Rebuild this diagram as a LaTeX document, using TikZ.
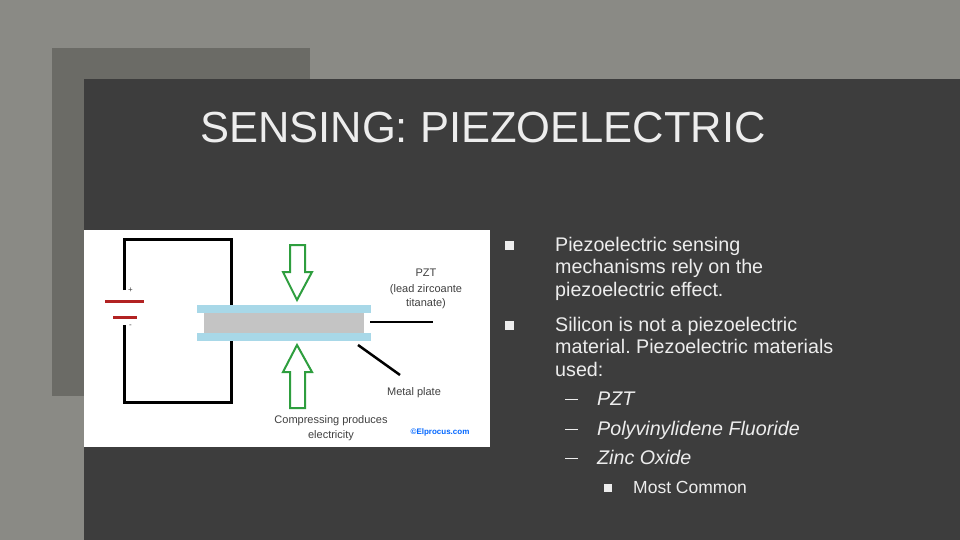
\documentclass[tikz,border=0pt]{standalone}
\usepackage{fontspec}
\setmainfont{Liberation Sans}
\usetikzlibrary{positioning}
\frenchspacing
\definecolor{bgout}{HTML}{8A8A85}
\definecolor{bgmid}{HTML}{6B6B66}
\definecolor{panel}{HTML}{3D3D3D}
\definecolor{txt}{HTML}{EDEDED}
\definecolor{plate}{HTML}{A8D8E8}
\definecolor{pzt}{HTML}{C4C4C4}
\definecolor{batt}{HTML}{B22222}
\definecolor{arr}{HTML}{2E9E3E}
\begin{document}
\begin{tikzpicture}[x=1pt, y=-1pt,
					every node/.style={inner sep=0pt, anchor=base west},
					body/.style={text=txt, font=\fontsize{19.7}{22}\selectfont},
					fig/.style={text=black!75, font=\fontsize{11}{12}\selectfont},
					wire/.style={line width=3pt, black}]

	\fill[bgout] (0,0) rectangle (960,540);
	\fill[bgmid] (52,48) rectangle (310,396);
	\fill[panel] (84,79) rectangle (960,540);
	\node[text=txt, font=\fontsize{43.5}{50}\selectfont] (title) at (200,143) {SENSING: PIEZOELECTRIC};

	% picture
	\fill[white] (84,230) rectangle (490,447);
	\draw[wire] (124,290) -- (124,239) -- (231,239) -- (231,305);
	\draw[wire] (231,341) -- (231,402) -- (124,402) -- (124,325);
	\draw[batt, line width=3pt] (105,301) -- (144,301);
	\draw[batt, line width=3pt] (113,317) -- (137,317);
	\node[fig, font=\fontsize{8}{9}\selectfont] (plus) at (128,292) {+};
	\node[fig, font=\fontsize{8}{9}\selectfont] (minus) at (129,327) {-};
	\fill[plate] (197,305) rectangle (371,313);
	\fill[pzt] (204,313) rectangle (364,333);
	\fill[plate] (197,333) rectangle (371,341);
	\draw[arr, line width=2pt] (290,245) -- (305,245) -- (305,272) -- (312,272)
		-- (297,300) -- (283,272) -- (290,272) -- cycle;
	\draw[arr, line width=2pt] (290,408) -- (305,408) -- (305,372) -- (312,372)
		-- (297,345) -- (283,372) -- (290,372) -- cycle;
	\coordinate (pztend) at (433,322);
	\coordinate (plateend) at (400,375);
	\draw[line width=2.5pt] (370,322) -- (pztend);
	\draw[line width=2.5pt] (358,345) -- (plateend);
	\node[fig, anchor=base] (pztlab) at (426,276) {PZT};
	\node[fig, anchor=base] (pztlab2) at (426,292) {(lead zircoante};
	\node[fig, anchor=base] (pztlab3) at (426,306) {titanate)};
	\node[fig, anchor=base] (metal) at (414,395) {Metal plate};
	\node[fig, anchor=base] (comp) at (331,423) {Compressing produces};
	\node[fig, anchor=base] (comp2) at (331,438) {electricity};
	\node[text=blue!60!cyan, font=\bfseries\fontsize{8}{9}\selectfont, anchor=base] (copy) at (440,434) {©Elprocus.com};

	% bullets
	\foreach \y in {245,325}
		\fill[txt] (505,\y-4) rectangle (514,\y+5);
	\node[body] (b1a) at (555,251) {Piezoelectric sensing};
	\node[body] (b1b) at (555,273) {mechanisms rely on the};
	\node[body] (b1c) at (555,296) {piezoelectric effect.};
	\node[body] (b2a) at (555,331) {Silicon is not a piezoelectric};
	\node[body] (b2b) at (555,353) {material. Piezoelectric materials};
	\node[body] (b2c) at (555,376) {used:};
	\foreach \y/\t in {405/PZT, 435/Polyvinylidene Fluoride, 464/Zinc Oxide}{
		\draw[txt, line width=1pt] (565,\y-6) -- (578,\y-6);
		\node[body, font=\itshape\fontsize{19.7}{22}\selectfont] at (597,\y) {\t};
	}
	\fill[txt] (604,484) rectangle (612,492);
	\node[body, font=\fontsize{17.5}{20}\selectfont] (b3) at (633,493) {Most Common};
\end{tikzpicture}
\end{document}
